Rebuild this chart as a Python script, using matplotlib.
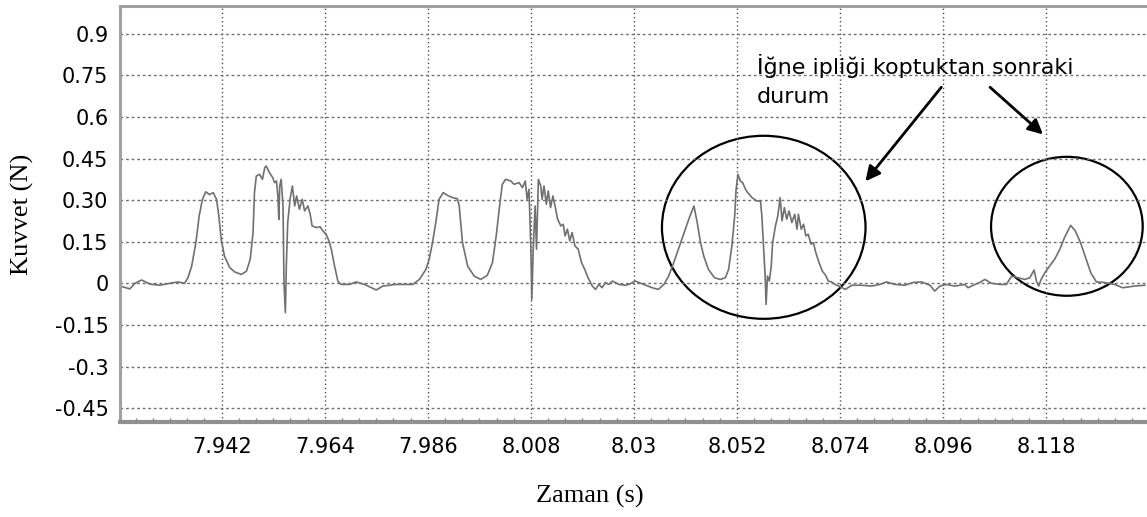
import matplotlib
matplotlib.use("Agg")
import matplotlib.pyplot as plt
from matplotlib.patches import Ellipse
from matplotlib.ticker import MultipleLocator, FixedLocator

# force trace
zaman = [7.9203, 7.9224, 7.9235, 7.9249, 7.9267, 7.9288, 7.9309, 7.9327, 7.9341, 7.9348,
         7.9356, 7.9365, 7.9372, 7.9379, 7.9386, 7.9394, 7.9402, 7.9409, 7.9414, 7.9419,
         7.9426, 7.9437, 7.9448, 7.9462, 7.9473, 7.9481, 7.9487, 7.9490, 7.9494, 7.9501,
         7.9507, 7.9512, 7.9515, 7.9522, 7.9529, 7.9533, 7.9537, 7.9540, 7.9542, 7.9544,
         7.9547, 7.9551, 7.9553, 7.9556, 7.9558, 7.9561, 7.9566, 7.9571, 7.9576, 7.9580,
         7.9586, 7.9592, 7.9597, 7.9604, 7.9609, 7.9613, 7.9622, 7.9630, 7.9636, 7.9643,
         7.9649, 7.9654, 7.9661, 7.9668, 7.9675, 7.9693, 7.9707, 7.9725, 7.9750, 7.9764,
         7.9792, 7.9828, 7.9842, 7.9856, 7.9863, 7.9870, 7.9877, 7.9884, 7.9893, 7.9902,
         7.9913, 7.9923, 7.9927, 7.9934, 7.9945, 7.9959, 7.9973, 7.9987, 7.9998, 8.0006,
         8.0014, 8.0019, 8.0026, 8.0037, 8.0044, 8.0055, 8.0062, 8.0068, 8.0072, 8.0076,
         8.0080, 8.0082, 8.0085, 8.0089, 8.0092, 8.0096, 8.0101, 8.0104, 8.0108, 8.0113,
         8.0117, 8.0122, 8.0127, 8.0133, 8.0137, 8.0144, 8.0149, 8.0153, 8.0158, 8.0163,
         8.0168, 8.0174, 8.0181, 8.0188, 8.0195, 8.0202, 8.0211, 8.0218, 8.0225, 8.0232,
         8.0239, 8.0246, 8.0254, 8.0268, 8.0282, 8.0289, 8.0303, 8.0321, 8.0339, 8.0352,
         8.0364, 8.0374, 8.0385, 8.0396, 8.0406, 8.0417, 8.0428, 8.0435, 8.0442, 8.0449,
         8.0459, 8.0472, 8.0484, 8.0495, 8.0502, 8.0509, 8.0515, 8.0518, 8.0522, 8.0527,
         8.0532, 8.0538, 8.0543, 8.0552, 8.0562, 8.0570, 8.0573, 8.0577, 8.0580, 8.0582,
         8.0585, 8.0589, 8.0593, 8.0596, 8.0602, 8.0607, 8.0612, 8.0616, 8.0621, 8.0626,
         8.0631, 8.0637, 8.0643, 8.0648, 8.0651, 8.0657, 8.0662, 8.0667, 8.0672, 8.0678,
         8.0683, 8.0688, 8.0695, 8.0702, 8.0709, 8.0715, 8.0722, 8.0729, 8.0740, 8.0751,
         8.0765, 8.0786, 8.0807, 8.0825, 8.0839, 8.0857, 8.0878, 8.0896, 8.0914, 8.0932,
         8.0942, 8.0953, 8.0967, 8.0985, 8.1006, 8.1013, 8.1028, 8.1038, 8.1049, 8.1063,
         8.1081, 8.1095, 8.1106, 8.1120, 8.1134, 8.1145, 8.1154, 8.1159, 8.1164, 8.1169,
         8.1177, 8.1187, 8.1198, 8.1209, 8.1219, 8.1232, 8.1242, 8.1253, 8.1263, 8.1275,
         8.1287, 8.1304, 8.1326, 8.1343, 8.1368, 8.1390]
kuvvet = [-0.010, -0.020, 0.000, 0.012, -0.003, -0.007, 0.000, 0.005, 0.000, 0.020,
          0.062, 0.147, 0.243, 0.303, 0.330, 0.320, 0.327, 0.303, 0.243, 0.159,
          0.098, 0.057, 0.041, 0.032, 0.044, 0.087, 0.183, 0.327, 0.387, 0.393,
          0.375, 0.417, 0.423, 0.399, 0.381, 0.363, 0.369, 0.315, 0.230, 0.351,
          0.375, 0.279, 0.000, -0.106, 0.062, 0.219, 0.303, 0.351, 0.279, 0.315,
          0.267, 0.303, 0.261, 0.279, 0.249, 0.207, 0.201, 0.204, 0.189, 0.177,
          0.153, 0.123, 0.062, 0.008, -0.004, -0.004, 0.005, -0.004, -0.024, -0.010,
          -0.004, -0.004, 0.014, 0.050, 0.087, 0.147, 0.219, 0.303, 0.327, 0.317,
          0.309, 0.305, 0.280, 0.147, 0.062, 0.026, 0.014, 0.029, 0.075, 0.171,
          0.291, 0.357, 0.375, 0.369, 0.357, 0.363, 0.345, 0.369, 0.303, 0.339,
          0.123, -0.058, 0.123, 0.279, 0.123, 0.375, 0.351, 0.303, 0.351, 0.285,
          0.333, 0.273, 0.315, 0.267, 0.231, 0.207, 0.213, 0.171, 0.195, 0.153,
          0.183, 0.135, 0.123, 0.075, 0.050, 0.020, -0.010, -0.022, -0.004, -0.016,
          0.003, -0.004, 0.008, -0.004, -0.007, -0.004, 0.008, -0.004, -0.016, -0.022,
          -0.004, 0.026, 0.075, 0.129, 0.177, 0.231, 0.279, 0.219, 0.147, 0.098,
          0.050, 0.020, 0.014, 0.020, 0.050, 0.135, 0.243, 0.339, 0.393, 0.369,
          0.363, 0.339, 0.327, 0.309, 0.297, 0.297, 0.243, 0.123, 0.026, -0.076,
          0.026, 0.008, 0.062, 0.147, 0.207, 0.243, 0.309, 0.225, 0.273, 0.231,
          0.261, 0.219, 0.249, 0.195, 0.249, 0.195, 0.213, 0.171, 0.177, 0.141,
          0.147, 0.111, 0.075, 0.044, 0.029, 0.008, 0.005, -0.004, -0.012, -0.022,
          -0.007, -0.007, -0.010, -0.004, 0.005, -0.004, -0.007, 0.003, 0.005, -0.007,
          -0.028, -0.010, -0.004, -0.010, -0.004, -0.016, -0.004, 0.003, 0.014, 0.000,
          -0.004, -0.004, 0.026, 0.020, 0.014, 0.020, 0.048, 0.008, -0.010, 0.014,
          0.038, 0.062, 0.087, 0.123, 0.165, 0.209, 0.189, 0.147, 0.098, 0.038,
          0.005, 0.003, -0.004, -0.016, -0.010, -0.007]

x_ticks = [7.942, 7.964, 7.986, 8.008, 8.03, 8.052, 8.074, 8.096, 8.118]
x_labels = ["7.942", "7.964", "7.986", "8.008", "8.03", "8.052", "8.074", "8.096", "8.118"]
y_ticks = [0.9, 0.75, 0.6, 0.45, 0.3, 0.15, 0, -0.15, -0.3, -0.45]
y_labels = ["0.9", "0.75", "0.6", "0.45", "0.30", "0.15", "0", "-0.15", "-0.3", "-0.45"]

note_line1 = "İğne ipliği koptuktan sonraki"
note_line2 = "durum"

fig = plt.figure(figsize=(11.47, 5.17), dpi=100)
ax = fig.add_axes([0.1042, 0.1838, 0.8958, 0.8046])

ax.plot(zaman, kuvvet, color="#707070", lw=1.2)

ax.set_xlim(7.9202, 8.1395)
ax.set_ylim(-0.5, 1.0)

ax.xaxis.set_major_locator(FixedLocator(x_ticks))
ax.set_xticklabels(x_labels)
ax.xaxis.set_minor_locator(MultipleLocator(0.022 / 6))
ax.set_yticks(y_ticks)
ax.set_yticklabels(y_labels)

ax.tick_params(axis="both", which="major", length=0, labelsize=15, colors="black")
ax.tick_params(axis="x", which="major", pad=11)
ax.tick_params(axis="y", which="major", pad=8)
ax.tick_params(axis="x", which="minor", direction="in", length=3, color="#808080", width=1)
ax.tick_params(axis="y", which="minor", length=0)

ax.grid(axis="y", which="major", color="#707070", lw=1, linestyle=(0, (2, 2)))
ax.grid(axis="x", which="major", color="#505050", lw=1, linestyle=(0, (1, 2)))

for side in ["top", "left"]:
    ax.spines[side].set_color("#a0a0a0")
    ax.spines[side].set_linewidth(2.2)
ax.spines["bottom"].set_color("#909090")
ax.spines["bottom"].set_linewidth(3)
ax.spines["right"].set_visible(False)

ax.set_xlabel("Zaman (s)", family="Liberation Serif", fontsize=19)
ax.set_ylabel("Kuvvet (N)", family="Liberation Serif", fontsize=19)
ax.xaxis.set_label_coords(0.458, -0.152)
ax.yaxis.set_label_coords(-0.083, 0.5)

# circles around the broken-thread regions
ax.add_patch(Ellipse((8.0577, 0.202), 0.04345, 0.660, fill=False, ec="black", lw=1.6))
ax.add_patch(Ellipse((8.1224, 0.2056), 0.03237, 0.501, fill=False, ec="black", lw=1.6))

ax.text(8.0562, 0.7826, note_line1, fontsize=16, va="center", ha="left")
ax.text(8.0562, 0.671, note_line2, fontsize=16, va="center", ha="left")

arrow = dict(arrowstyle="-|>", lw=2, color="black", mutation_scale=22, shrinkA=0, shrinkB=0)
ax.annotate("", xy=(8.0794, 0.368), xytext=(8.0956, 0.707), arrowprops=arrow)
ax.annotate("", xy=(8.1173, 0.537), xytext=(8.1060, 0.707), arrowprops=arrow)

fig.savefig("out.png", dpi=100)
